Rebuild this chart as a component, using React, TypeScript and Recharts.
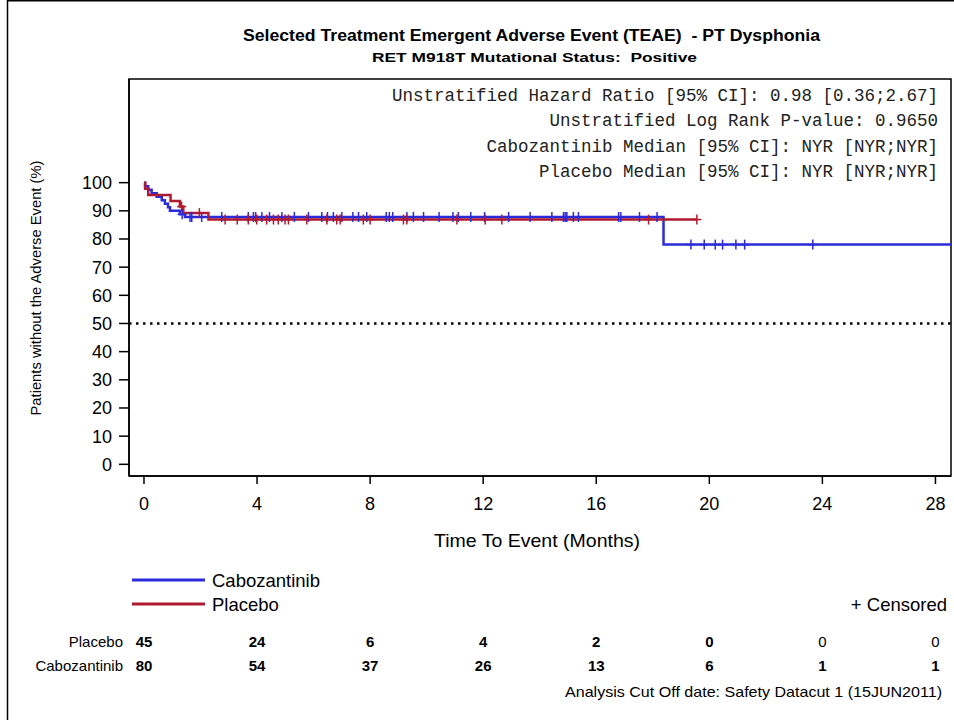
import {
  ComposedChart,
  Line,
  ReferenceArea,
  ReferenceLine,
  Scatter,
  XAxis,
  YAxis,
} from "recharts";

// Kaplan-Meier steps (months, % without event)
const CABO_T = [0, 0.04, 0.15, 0.27, 0.45, 0.63, 0.74, 0.85, 0.92, 1.27, 1.45, 18.38, 28.6];
const CABO_S = [100, 98.75, 97.5, 96.25, 95.0, 93.75, 92.5, 91.25, 90.0, 88.75, 87.8, 78.0, 78.0];
const PLAC_T = [0, 0.04, 0.15, 0.94, 1.27, 1.39, 2.28, 19.56];
const PLAC_S = [100, 97.8, 95.6, 93.5, 91.5, 89.2, 86.9, 86.9];

// censored observations (months)
const CABO_CENSOR = [
  1.35, 1.63, 1.69, 2.04, 2.75, 3.69, 3.87, 3.95, 4.17, 4.44, 4.88, 5.32, 5.82, 6.29,
  6.49, 6.7, 7.0, 7.39, 7.59, 7.88, 8.57, 8.68, 8.8, 9.3, 9.53, 9.89, 10.44, 10.93,
  11.12, 11.56, 12.05, 12.9, 13.66, 14.43, 14.84, 14.9, 14.96, 15.19, 15.37, 16.79,
  16.87, 17.53, 18.15, 19.35, 19.82, 20.21, 20.47, 20.94, 21.25, 23.66,
];
const PLAC_CENSOR = [
  1.33, 1.96, 2.87, 3.3, 3.69, 3.99, 4.34, 4.58, 4.75, 4.99, 5.11, 5.76, 6.47, 6.82,
  6.94, 7.76, 8.0, 9.18, 9.3, 11.07, 12.07, 12.66, 17.85, 19.56,
];

const X_TICKS = [0, 4, 8, 12, 16, 20, 24, 28];
const Y_TICKS = [0, 10, 20, 30, 40, 50, 60, 70, 80, 90, 100];
const AT_RISK_PLAC = [45, 24, 6, 4, 2, 0, 0, 0];
const AT_RISK_CABO = [80, 54, 37, 26, 13, 6, 1, 1];

const STATS = [
  "Unstratified Hazard Ratio [95% CI]: 0.98 [0.36;2.67]",
  "Unstratified Log Rank P-value: 0.9650",
  "Cabozantinib Median [95% CI]: NYR [NYR;NYR]",
  "Placebo Median [95% CI]: NYR [NYR;NYR]",
];

const BLUE = "#2b2bd9";
const RED = "#b01a30";
const SANS = "'Liberation Sans', Arial, sans-serif";
const MONO = "'Liberation Mono', 'Courier New', monospace";

const X_MIN = -0.53;
const X_MAX = 28.55;
const Y_MIN = -4.15;
const Y_MAX = 136.8;

const toRows = (t: number[], s: number[]) => t.map((v, i) => ({ t: v, s: s[i] }));

const survAt = (t: number[], s: number[], at: number) => {
  let v = s[0];
  for (let i = 0; i < t.length; i++) if (t[i] <= at) v = s[i];
  return v;
};

const caboLine = toRows(CABO_T, CABO_S);
const placLine = toRows(PLAC_T, PLAC_S);
const caboCens = CABO_CENSOR.map((t) => ({ t, s: survAt(CABO_T, CABO_S, t) }));
const placCens = PLAC_CENSOR.map((t) => ({ t, s: survAt(PLAC_T, PLAC_S, t) }));

const plus = (color: string) => (props: any) => {
  const { cx, cy } = props;
  return (
    <g stroke={color} strokeWidth={1.5}>
      <line x1={cx - 4.5} x2={cx + 4.5} y1={cy} y2={cy} />
      <line x1={cx} x2={cx} y1={cy - 5} y2={cy + 5} />
    </g>
  );
};

// month label plus the numbers-at-risk rows, placed by the x scale
const MonthTick = (props: any) => {
  const { x, y, payload } = props;
  const idx = X_TICKS.indexOf(payload.value);
  // trailing placebo zeros print lighter in the source
  const placWeight = idx > 5 ? 400 : 600;
  return (
    <g fontFamily={SANS} textAnchor="middle" fill="#000">
      <text x={x} y={y} dy="0.71em" fontSize={18}>
        {payload.value}
      </text>
      <text x={x} y={y + 150} fontSize={15} fontWeight={placWeight}>
        {AT_RISK_PLAC[idx]}
      </text>
      <text x={x} y={y + 174} fontSize={15} fontWeight={600}>
        {AT_RISK_CABO[idx]}
      </text>
    </g>
  );
};

const pre = { whiteSpace: "pre" } as const;

export default function App() {
  return (
    <div style={{ position: "absolute", left: 0, top: 0, width: 954, height: 720, background: "#fff" }}>
      <ComposedChart
        width={954}
        height={720}
        margin={{ top: 79, right: 3, bottom: 214, left: 69 }}
        style={{ position: "absolute", left: 0, top: 0 }}
      >
        <XAxis
          type="number"
          dataKey="t"
          domain={[X_MIN, X_MAX]}
          ticks={X_TICKS}
          allowDataOverflow
          height={30}
          tickSize={8}
          tickMargin={13}
          tick={<MonthTick />}
          axisLine={{ stroke: "#000", strokeWidth: 1.5 }}
          tickLine={{ stroke: "#000", strokeWidth: 1.5 }}
          interval={0}
        />
        <YAxis
          type="number"
          dataKey="s"
          domain={[Y_MIN, Y_MAX]}
          ticks={Y_TICKS}
          allowDataOverflow
          width={60}
          tickSize={10}
          tickMargin={7}
          interval={0}
          tick={{ fontSize: 18, fill: "#000", fontFamily: SANS }}
          axisLine={{ stroke: "#000", strokeWidth: 1.5 }}
          tickLine={{ stroke: "#000", strokeWidth: 1.5 }}
        />
        <ReferenceArea
          x1={X_MIN}
          x2={X_MAX}
          y1={Y_MIN}
          y2={Y_MAX}
          fill="none"
          stroke="#000"
          strokeWidth={1.5}
          fillOpacity={0}
        />
        <ReferenceLine y={50} stroke="#000" strokeWidth={2.5} strokeDasharray="2.5 4.5" />
        <Line
          data={caboLine}
          dataKey="s"
          type="stepAfter"
          stroke={BLUE}
          strokeWidth={2.5}
          dot={false}
          isAnimationActive={false}
        />
        <Scatter data={caboCens} dataKey="s" shape={plus(BLUE)} isAnimationActive={false} />
        <Line
          data={placLine}
          dataKey="s"
          type="stepAfter"
          stroke={RED}
          strokeWidth={2.5}
          dot={false}
          isAnimationActive={false}
        />
        <Scatter data={placCens} dataKey="s" shape={plus(RED)} isAnimationActive={false} />
      </ComposedChart>

      <svg
        width={954}
        height={720}
        style={{ position: "absolute", left: 0, top: 0, pointerEvents: "none" }}
      >
        {/* outer frame */}
        <line x1={7.5} y1={0} x2={7.5} y2={720} stroke="#000" strokeWidth={1.5} />
        <line x1={7} y1={0.75} x2={954} y2={0.75} stroke="#000" strokeWidth={1.5} />

        <text x={531.5} y={41} textAnchor="middle" fontFamily={SANS} fontWeight="bold" fontSize={16} textLength={577} lengthAdjust="spacingAndGlyphs" style={pre}>
          Selected Treatment Emergent Adverse Event (TEAE)  - PT Dysphonia
        </text>
        <text x={534.5} y={62} textAnchor="middle" fontFamily={SANS} fontWeight="bold" fontSize={13.5} textLength={325} lengthAdjust="spacingAndGlyphs" style={pre}>
          RET M918T Mutational Status:  Positive
        </text>

        {STATS.map((s, i) => (
          <text key={s} x={938} y={101 + i * 25.3} textAnchor="end" fontFamily={MONO} fontSize={17.5} fill="#222">
            {s}
          </text>
        ))}

        <text
          transform="translate(41,288) rotate(-90)"
          textAnchor="middle"
          fontFamily={SANS}
          fontSize={15}
          textLength={255}
          lengthAdjust="spacingAndGlyphs"
        >
          Patients without the Adverse Event (%)
        </text>

        <text x={537} y={547} textAnchor="middle" fontFamily={SANS} fontSize={18.5} textLength={206} lengthAdjust="spacingAndGlyphs">
          Time To Event (Months)
        </text>

        {/* legend */}
        <line x1={132} x2={205} y1={580} y2={580} stroke={BLUE} strokeWidth={3} />
        <line x1={132} x2={205} y1={604} y2={604} stroke={RED} strokeWidth={3} />
        <text x={212} y={586.5} fontFamily={SANS} fontSize={18.5}>Cabozantinib</text>
        <text x={212} y={610.5} fontFamily={SANS} fontSize={18.5}>Placebo</text>
        <text x={947} y={610.5} textAnchor="end" fontFamily={SANS} fontSize={18.5}>+ Censored</text>

        {/* at-risk row labels */}
        <text x={123} y={647} textAnchor="end" fontFamily={SANS} fontSize={15}>Placebo</text>
        <text x={123} y={671} textAnchor="end" fontFamily={SANS} fontSize={15}>Cabozantinib</text>

        <text x={942} y={697} textAnchor="end" fontFamily={SANS} fontSize={15} textLength={377} lengthAdjust="spacingAndGlyphs">
          Analysis Cut Off date: Safety Datacut 1 (15JUN2011)
        </text>
      </svg>
    </div>
  );
}
